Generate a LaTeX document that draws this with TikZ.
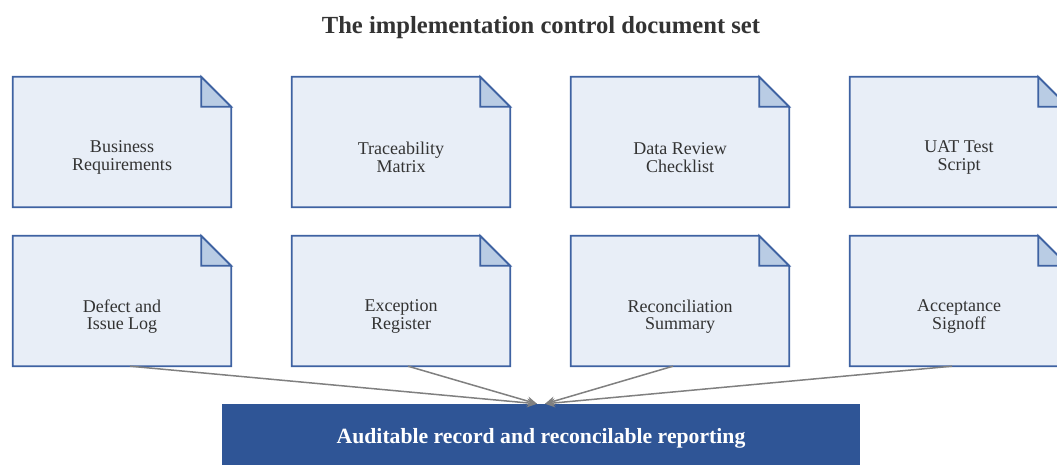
\documentclass[tikz,border=0pt]{standalone}
\usepackage{fontspec}
\setmainfont{Liberation Serif}
\usetikzlibrary{arrows.meta,calc}
\definecolor{docfill}{RGB}{232,238,247}
\definecolor{foldfill}{RGB}{185,204,228}
\definecolor{docline}{RGB}{62,98,162}
\definecolor{outfill}{RGB}{47,85,150}
\definecolor{txt}{RGB}{51,51,51}
\definecolor{arr}{RGB}{128,128,128}
\tikzset{
  docbox/.style={rectangle,minimum width=218pt,minimum height=130pt,inner sep=0pt,draw=none},
  doctext/.style={text=txt,font=\fontsize{18}{17.5}\selectfont,align=center,inner sep=0pt},
  docedge/.style={draw=docline,line width=1.8pt,line join=miter},
  conn/.style={draw=arr,line width=1.5pt,-{Stealth[length=10pt,width=9pt]}},
  outbox/.style={rectangle,fill=outfill,draw=none,minimum width=638pt,minimum height=64pt,inner sep=0pt,
    text=white,font=\fontsize{21.7}{24}\selectfont\bfseries},
}
\newcommand{\docshape}[4]{%
  \node[docbox] (#1) at (#2,#3) {};
  \path[docedge,fill=docfill] (#1.north west) -- ([xshift=-30pt]#1.north east) -- ([yshift=-30pt]#1.north east) -- (#1.south east) -- (#1.south west) -- cycle;
  \path[docedge,fill=foldfill] ([xshift=-30pt]#1.north east) -- ([xshift=-30pt,yshift=-30pt]#1.north east) -- ([yshift=-30pt]#1.north east) -- cycle;
  \node[doctext] (#1t) at ([yshift=-15.5pt]#1.center) {#4};
}
\begin{document}
\begin{tikzpicture}[x=1pt,y=-1pt]
\useasboundingbox (0,0) rectangle (1057,465);
\clip (0,0) rectangle (1057,465);
\fill[white] (0,0) rectangle (1057,465);
\node[text=txt,font=\fontsize{24.6}{28}\selectfont\bfseries] (title) at (541,28) {The implementation control document set};
\docshape{d1}{122}{142}{Business\\Requirements}
\docshape{d2}{401}{142}{Traceability\\Matrix}
\docshape{d3}{680}{142}{Data Review\\Checklist}
\docshape{d4}{959}{142}{UAT Test\\Script}
\docshape{d5}{122}{301}{Defect and\\Issue Log}
\docshape{d6}{401}{301}{Exception\\Register}
\docshape{d7}{680}{301}{Reconciliation\\Summary}
\docshape{d8}{959}{301}{Acceptance\\Signoff}
\node[outbox] (out) at (541,436) {};
\node[text=white,font=\fontsize{21.7}{24}\selectfont\bfseries] (outt) at (541,438) {Auditable record and reconcilable reporting};
\draw[conn] ([xshift=8pt]d5.south) -- ([xshift=-4pt]out.north);
\draw[conn] ([xshift=7pt]d6.south) -- ([xshift=-4pt]out.north);
\draw[conn] ([xshift=-7pt]d7.south) -- ([xshift=4pt]out.north);
\draw[conn] ([xshift=-7pt]d8.south) -- ([xshift=4pt]out.north);
\end{tikzpicture}
\end{document}
